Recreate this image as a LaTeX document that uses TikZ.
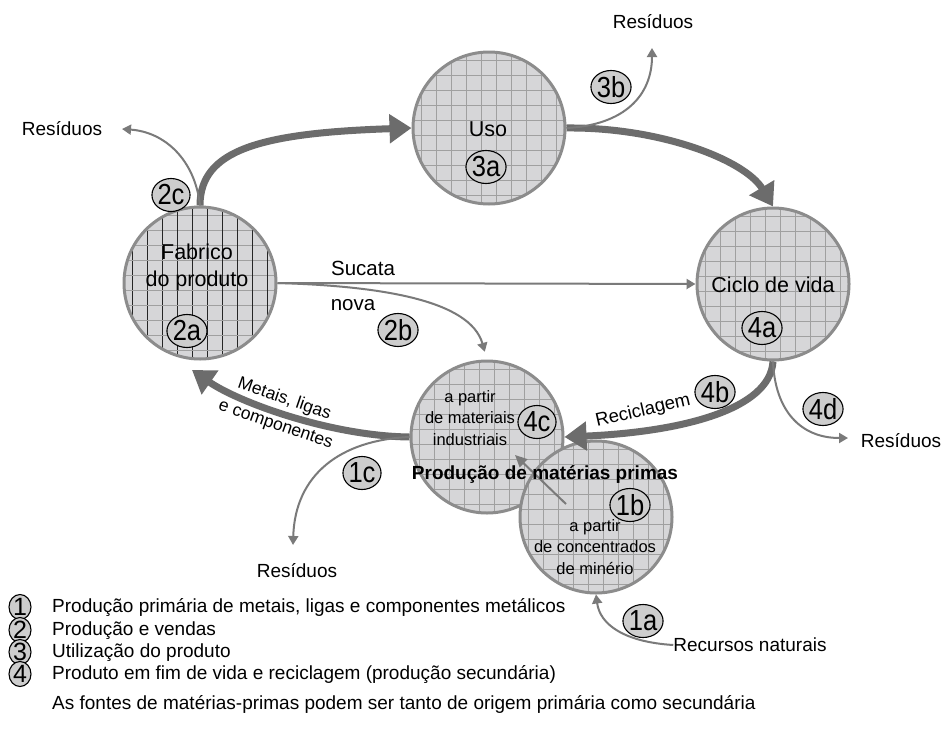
\documentclass[tikz,border=0pt]{standalone}
\usepackage{fontspec}
\usepackage{graphicx}
\setmainfont{Liberation Sans}
\usetikzlibrary{arrows.meta,shapes.geometric,calc}

\definecolor{ringgray}{HTML}{8C8C8C}
\definecolor{fillgray}{HTML}{D6D6D8}
\definecolor{gridgray}{HTML}{A0A0A0}
\definecolor{flowgray}{HTML}{6C6C6C}
\definecolor{thingray}{HTML}{7A7A7A}
\definecolor{tagfill}{HTML}{CDCDCD}

\newcommand{\fsz}[2]{\fontsize{#1}{#2}\selectfont}
\newcommand{\narrow}[1]{\scalebox{0.88}[1]{#1}}

\tikzset{
  x=1pt, y=-1pt,
  gridlines/.style 2 args={path picture={
      \foreach \k in {-6,...,5}{
        \draw[#1,line width=1.3pt]
          ($(path picture bounding box.center)+(7.5+15*\k,-90)$) -- ++(0,180);
        \draw[#2,line width=1.3pt]
          ($(path picture bounding box.center)+(-90,7.5+15*\k)$) -- ++(180,0);
      }}},
  stage/.style={circle, minimum size=152pt, inner sep=0pt, fill=fillgray,
    draw=ringgray, line width=3pt},
  tag/.style={ellipse, draw=black, line width=1.1pt, fill=tagfill,
    minimum width=34pt, minimum height=33pt, inner sep=0pt, font=\fsz{29}{29}},
  legtag/.style={ellipse, draw=black, line width=1.1pt, fill=tagfill,
    minimum width=22pt, minimum height=25pt, inner sep=0pt, font=\fsz{25}{25}},
  lbl/.style={inner sep=0pt, font=\fsz{19}{22}},
  biglbl/.style={inner sep=0pt, align=center, font=\fsz{21.5}{27}},
  midlbl/.style={inner sep=0pt, align=center, font=\fsz{16.5}{21.5}},
  flowlbl/.style={inner sep=0pt, font=\fsz{20.5}{24}},
  arclbl/.style={inner sep=0pt, align=center, font=\fsz{17.5}{27}},
  bigflow/.style={draw=flowgray, line width=7pt,
    -{Triangle[length=22pt,width=28pt]}},
  thinflow/.style={draw=thingray, line width=2pt,
    -{Triangle[length=9pt,width=10pt]}},
}

\begin{document}
\begin{tikzpicture}
\useasboundingbox (0,0) rectangle (944,728);
\fill[white] (0,0) rectangle (944,728);

% ---- stage circles ----
\node[stage, gridlines={black!85}{gridgray}] (fab) at (200,283) {};
\node[stage, gridlines={gridgray}{gridgray}] (uso) at (489,128) {};
\node[stage, gridlines={gridgray}{gridgray}] (cic) at (773,284) {};
\node[stage, gridlines={gridgray}{gridgray}] (mat) at (487,437) {};
\node[stage, gridlines={gridgray}{gridgray}] (ore) at (596,517) {};

% ---- free ends ----
\coordinate (wasteUso) at (652,48);
\coordinate (wasteFab) at (122,129);
\coordinate (wasteCic) at (848,438);
\coordinate (wasteMat) at (293,545);
\coordinate (fabIn) at (192,370);
\coordinate (oreOut) at (566,504);
\coordinate (matIn) at (515,455);

% ---- main cycle ----
\draw[bigflow] (fab.north) .. controls (200,150) and (260,133) .. (uso.west);
\draw[bigflow] (uso.east) .. controls (660,127) and (745,160) .. (cic.north);
\draw[bigflow] (cic.south) .. controls (770,410) and (680,432) .. (mat.east);
\draw[bigflow] (mat.west) .. controls (330,436) and (238,402) .. (fabIn);

% ---- secondary flows ----
\draw[thinflow] (fab.east) -- (cic.west);
\draw[thinflow, shorten >=8pt] (fab.east) .. controls (380,286) and (470,300) .. (mat.north);
\draw[thinflow] (fab.north) .. controls (195,160) and (165,132) .. (wasteFab);
\draw[thinflow] (uso.east) .. controls (625,125) and (652,95) .. (wasteUso);
\draw[thinflow] (cic.south) .. controls (775,410) and (800,438) .. (wasteCic);
\draw[thinflow] (mat.west) .. controls (340,440) and (295,475) .. (wasteMat);
\draw[thinflow, -{Triangle[length=12pt,width=11pt]}] (oreOut) -- (matIn);

% ---- stage texts ----
\node[biglbl] (tFab) at (197,267) {Fabrico\\do produto};
\node[biglbl] (tUso) at (488,129) {Uso};
\node[biglbl] (tCic) at (773,285) {Ciclo de vida};
\node[midlbl] (tMat) at (470,418) {a partir\\de materiais\\industriais};
\node[midlbl] (tOre) at (595,547) {a partir\\de concentrados\\de minério};
\node[inner sep=0pt, font=\fsz{19}{22}\bfseries] (tProd) at (545,474) {Produção de matérias primas};

% ---- flow texts ----
\node[flowlbl] (tSuc) at (363,268) {Sucata};
\node[flowlbl] (tNova) at (353,305) {nova};
\node[arclbl, rotate=-19] (tMet) at (280,412) {Metais, ligas\\e componentes};
\node[inner sep=0pt, font=\fsz{18.5}{20}, rotate=13] (tRec) at (643,411) {Reciclagem};

\node[lbl] (resUso) at (653,22) {Resíduos};
\node[lbl] (resFab) at (62,129) {Resíduos};
\node[lbl] (resCic) at (901,441) {Resíduos};
\node[lbl] (resMat) at (297,571) {Resíduos};
\node[lbl] (recNat) at (750,645) {Recursos naturais};

\draw[thinflow] (recNat.west) .. controls (625,642) and (600,625) .. (ore.south);

% ---- step tags ----
\node[tag] (t2a) at (187,331) {\narrow{2a}};
\node[tag] (t3a) at (486,167) {\narrow{3a}};
\node[tag] (t4a) at (762,328) {\narrow{4a}};
\node[tag] (t4c) at (537,422) {\narrow{4c}};
\node[tag] (t1b) at (630,505) {\narrow{1b}};
\node[tag] (t1c) at (362,473) {\narrow{1c}};
\node[tag] (t3b) at (611,87) {\narrow{3b}};
\node[tag] (t4d) at (823,409) {\narrow{4d}};
\node[tag] (t4b) at (715,392) {\narrow{4b}};
\node[tag] (t2c) at (171,195) {\narrow{2c}};
\node[tag] (t2b) at (398,330) {\narrow{2b}};
\node[tag] (t1a) at (643,621) {\narrow{1a}};

% ---- legend ----
\node[legtag] (k1) at (20,607) {1};
\node[legtag] (k2) at (20,630) {2};
\node[legtag] (k3) at (20,652) {3};
\node[legtag] (k4) at (20,674) {4};
\node[lbl, anchor=west] (k1t) at (52,608) {Produção primária de metais, ligas e componentes metálicos};
\node[lbl, anchor=west] (k2t) at (52,631) {Produção e vendas};
\node[lbl, anchor=west] (k3t) at (52,653) {Utilização do produto};
\node[lbl, anchor=west] (k4t) at (52,675) {Produto em fim de vida e reciclagem (produção secundária)};
\node[lbl, anchor=west] (k5t) at (52,704) {As fontes de matérias-primas podem ser tanto de origem primária como secundária};
\end{tikzpicture}
\end{document}
